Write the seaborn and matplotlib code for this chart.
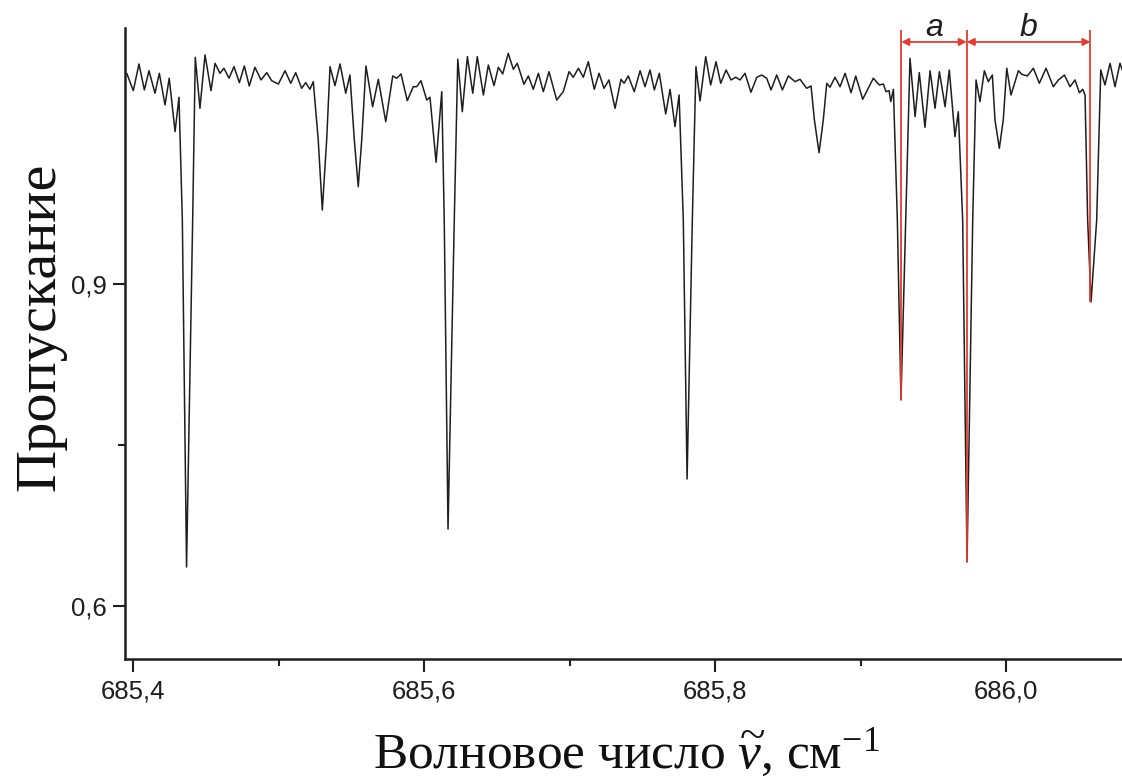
import numpy as np
import pandas as pd
import matplotlib
matplotlib.use("Agg")
import matplotlib.pyplot as plt
import seaborn as sns

# ---- data ----
wavenumber = [
    685.3957, 685.4002, 685.4041, 685.4078, 685.4110, 685.4151, 685.4181, 685.4220,
    685.4249, 685.4289, 685.4316, 685.4339, 685.4368, 685.4410, 685.4428, 685.4460,
    685.4495, 685.4536, 685.4564, 685.4598, 685.4625, 685.4660, 685.4694, 685.4731,
    685.4765, 685.4799, 685.4838, 685.4880, 685.4919, 685.4953, 685.4999, 685.5045,
    685.5084, 685.5118, 685.5159, 685.5187, 685.5216, 685.5239, 685.5273, 685.5301,
    685.5331, 685.5354, 685.5388, 685.5423, 685.5462, 685.5491, 685.5521, 685.5548,
    685.5572, 685.5601, 685.5647, 685.5686, 685.5737, 685.5785, 685.5812, 685.5842,
    685.5885, 685.5926, 685.5950, 685.5979, 685.6019, 685.6041, 685.6083, 685.6122,
    685.6139, 685.6165, 685.6208, 685.6232, 685.6263, 685.6298, 685.6335, 685.6366,
    685.6408, 685.6442, 685.6481, 685.6511, 685.6541, 685.6579, 685.6614, 685.6641,
    685.6687, 685.6717, 685.6751, 685.6786, 685.6820, 685.6859, 685.6912, 685.6957,
    685.6997, 685.7026, 685.7061, 685.7095, 685.7129, 685.7170, 685.7203, 685.7237,
    685.7271, 685.7313, 685.7354, 685.7375, 685.7404, 685.7445, 685.7485, 685.7519,
    685.7553, 685.7583, 685.7617, 685.7661, 685.7691, 685.7725, 685.7753, 685.7782,
    685.7808, 685.7844, 685.7869, 685.7897, 685.7936, 685.7970, 685.8007, 685.8039,
    685.8076, 685.8110, 685.8142, 685.8172, 685.8206, 685.8247, 685.8287, 685.8321,
    685.8355, 685.8385, 685.8424, 685.8463, 685.8504, 685.8550, 685.8584, 685.8630,
    685.8660, 685.8683, 685.8715, 685.8744, 685.8768, 685.8790, 685.8825, 685.8859,
    685.8894, 685.8935, 685.8967, 685.9015, 685.9088, 685.9129, 685.9157, 685.9175,
    685.9196, 685.9208, 685.9226, 685.9253, 685.9278, 685.9311, 685.9340, 685.9375,
    685.9404, 685.9443, 685.9478, 685.9512, 685.9542, 685.9581, 685.9610, 685.9649,
    685.9672, 685.9702, 685.9732, 685.9771, 685.9794, 685.9821, 685.9851, 685.9878,
    685.9906, 685.9924, 685.9954, 685.9981, 686.0005, 686.0034, 686.0085, 686.0108,
    686.0146, 686.0188, 686.0229, 686.0275, 686.0325, 686.0360, 686.0401, 686.0440,
    686.0474, 686.0504, 686.0527, 686.0543, 686.0561, 686.0584, 686.0623, 686.0651,
    686.0680, 686.0715, 686.0749, 686.0783, 686.0811,
]
transmission = [
    1.0963, 1.0801, 1.1050, 1.0808, 1.0987, 1.0777, 1.0963, 1.0668,
    1.0917, 1.0419, 1.0740, 0.9596, 0.6363, 0.9596, 1.1112, 1.0637,
    1.1134, 1.0801, 1.1056, 1.0963, 1.1010, 1.0917, 1.1025, 1.0876,
    1.1031, 1.0845, 1.1019, 1.0901, 1.0969, 1.0894, 1.0863, 1.0987,
    1.0870, 1.0969, 1.0823, 1.0876, 1.0814, 1.0885, 1.0342, 0.9689,
    1.0342, 1.1025, 1.0848, 1.1050, 1.0777, 1.0947, 1.0342, 0.9907,
    1.0342, 1.1031, 1.0652, 1.0907, 1.0512, 1.0938, 1.0917, 1.0957,
    1.0708, 1.0838, 1.0838, 1.0894, 1.0714, 1.0740, 1.0134, 1.0792,
    0.9596, 0.6717, 0.9596, 1.1094, 1.0605, 1.1118, 1.0777, 1.1118,
    1.0761, 1.1040, 1.0848, 1.1019, 1.0957, 1.1149, 1.1000, 1.1056,
    1.0861, 1.0938, 1.0814, 1.0963, 1.0792, 1.0978, 1.0714, 1.0792,
    1.0978, 1.0926, 1.1010, 1.0926, 1.1071, 1.0814, 1.0963, 1.0823,
    1.0901, 1.0637, 1.0907, 1.0870, 1.0938, 1.0792, 1.0987, 1.0838,
    1.0994, 1.0808, 1.0963, 1.0584, 1.0814, 1.0466, 1.0761, 0.9596,
    0.7183, 0.9596, 1.1025, 1.0705, 1.1118, 1.0854, 1.1071, 1.0870,
    1.0994, 1.0901, 1.0926, 1.0901, 1.0963, 1.0786, 1.0926, 1.0947,
    1.0917, 1.0808, 1.0947, 1.0808, 1.0938, 1.0885, 1.0907, 1.0823,
    1.0845, 1.0528, 1.0223, 1.0528, 1.0870, 1.0833, 1.0926, 1.0838,
    1.0963, 1.0782, 1.0938, 1.0721, 1.0917, 1.0854, 1.0863, 1.0792,
    1.0801, 1.0699, 1.0814, 0.9596, 0.7919, 0.9596, 1.1103, 1.0559,
    1.0969, 1.0460, 1.0987, 1.0637, 1.0978, 1.0652, 1.0994, 1.0372,
    1.0605, 0.9596, 0.6410, 0.9596, 1.0901, 1.0699, 1.0987, 1.0885,
    1.0947, 1.0528, 1.0264, 1.0528, 1.1010, 1.0761, 1.0987, 1.0954,
    1.0938, 1.1010, 1.0870, 1.1010, 1.0838, 1.0901, 1.0947, 1.0838,
    1.0901, 1.0782, 1.0814, 1.0761, 0.9596, 0.8832, 0.9596, 1.0994,
    1.0854, 1.1056, 1.0838, 1.1056, 1.0947,
]

xtick_major = [685.4, 685.6, 685.8, 686.0]
xtick_minor = [685.5, 685.7, 685.9]
ytick_major = [0.6, 0.9]
ytick_minor = [0.75]

marker_pos = [685.928, 685.973, 686.058]     # red interval borders
marker_depth = [0.792, 0.641, 0.883]          # line minima they reach down to
interval_labels = ["a", "b"]

x_label = "Волновое число $\\widetilde{v}$, см$^{-1}$"
y_label = "Пропускание"

# ---- style ----
sns.set_theme(style="ticks")
plt.rcParams["font.family"] = ["Liberation Sans", "DejaVu Sans"]
plt.rcParams["mathtext.fontset"] = "custom"
plt.rcParams["mathtext.rm"] = "Liberation Serif"
plt.rcParams["mathtext.it"] = "Liberation Serif:italic"

RED = "#e53a2f"
INK = "#1e1e1e"

fig = plt.figure(figsize=(11.22, 7.84), dpi=100)
ax = fig.add_axes([125 / 1122, 1 - 659 / 784, 1 - 125 / 1122, 631 / 784])

df = pd.DataFrame({"wavenumber": wavenumber, "transmission": transmission})
sns.lineplot(data=df, x="wavenumber", y="transmission", ax=ax, color=INK,
             linewidth=1.1, estimator=None, sort=False, zorder=2)

ax.set_xlim(685.3945, 686.0797)
ax.set_ylim(0.5506, 1.1385)

ax.set_xticks(xtick_major, labels=[f"{t:.1f}".replace(".", ",") for t in xtick_major])
ax.set_xticks(xtick_minor, minor=True)
ax.set_yticks(ytick_major, labels=[f"{t:.1f}".replace(".", ",") for t in ytick_major])
ax.set_yticks(ytick_minor, minor=True)
ax.tick_params(axis="both", which="major", length=9, width=1.5, labelsize=18.5,
               colors=INK, direction="out")
ax.tick_params(axis="x", which="major", pad=6)
ax.tick_params(axis="y", which="major", pad=4)
ax.tick_params(axis="both", which="minor", length=5, width=1.5, colors=INK)
ax.set_xlabel("")
ax.set_ylabel("")
sns.despine(ax=ax)
for s in ("left", "bottom"):
    ax.spines[s].set_linewidth(1.8)
    ax.spines[s].set_color(INK)
ax.grid(False)

# red interval markers
ax.vlines(marker_pos, marker_depth, 1.1367, color=RED, linewidth=1.3, zorder=3)
arrow_y = 1.1255
for i, lab in enumerate(interval_labels):
    ax.annotate("", xy=(marker_pos[i + 1], arrow_y), xytext=(marker_pos[i], arrow_y),
                arrowprops=dict(arrowstyle="<|-|>", color=RED, lw=1.3,
                                shrinkA=0, shrinkB=0, mutation_scale=11),
                zorder=4)
    ax.text((marker_pos[i] + marker_pos[i + 1]) / 2, 1.1315, lab, ha="center",
            va="baseline", fontsize=23, style="italic", color=INK,
            family="Liberation Sans", clip_on=False)

# axis titles
fig.text(626 / 1122, 1 - 768 / 784, x_label, ha="center", va="baseline",
         fontsize=37, family="Liberation Serif", color="#111111")
fig.text(40 / 1122, 1 - 327 / 784, y_label, ha="center", va="center", rotation=90,
         fontsize=42, family="Liberation Serif", color="#111111")

fig.savefig("out.png", dpi=100, facecolor="white")
